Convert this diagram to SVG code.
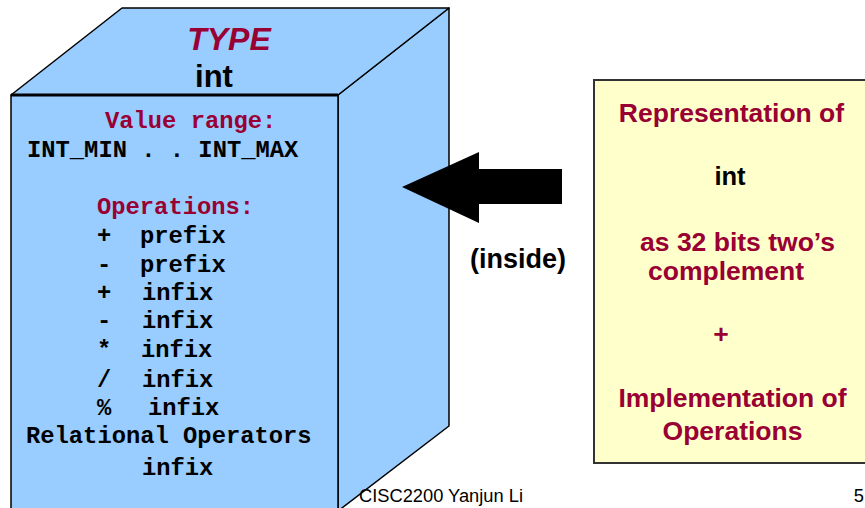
<svg xmlns="http://www.w3.org/2000/svg" width="865" height="508" viewBox="0 0 865 508">
  <style>
    .face { fill: #99CCFF; stroke: #000; stroke-width: 1.5; stroke-linejoin: round; }
    .mono { font-family: "Liberation Mono", "Courier New", monospace; font-weight: bold; font-size: 23.8px; fill: #000; }
    .mono.red { fill: #990033; }
    .sans { font-family: "Liberation Sans", Arial, sans-serif; font-weight: bold; }
    .red { fill: #990033; }
    .foot { font-family: "Liberation Sans", Arial, sans-serif; font-size: 18.3px; fill: #000; }
  </style>
  <rect width="865" height="508" fill="#fff"/>

  <!-- the type shown as a box: front, top and right faces -->
  <g id="type-box">
    <polygon class="face" points="338,95 449,8 449,426 338,511"/>
    <polygon class="face" points="11,95 122,8 449,8 338,95"/>
    <rect class="face" x="11" y="95" width="327" height="420"/>
    <line x1="11" y1="95" x2="338" y2="95" stroke="#000" stroke-width="3"/>
    <text class="sans red" x="229" y="50" font-size="32" font-style="italic" text-anchor="middle">TYPE</text>
    <text class="sans" x="214" y="87" font-size="31" text-anchor="middle">int</text>
    <text class="mono red" x="105" y="128">Value range:</text>
    <text class="mono" x="27" y="157">INT_MIN . . INT_MAX</text>
    <text class="mono red" x="97" y="214">Operations:</text>
    <text class="mono" x="97" y="243">+<tspan x="140">prefix</tspan></text>
    <text class="mono" x="97" y="272">-<tspan x="140">prefix</tspan></text>
    <text class="mono" x="97" y="300">+<tspan x="142">infix</tspan></text>
    <text class="mono" x="97" y="328">-<tspan x="142">infix</tspan></text>
    <text class="mono" x="97" y="357">*<tspan x="141">infix</tspan></text>
    <text class="mono" x="97" y="387">/<tspan x="142">infix</tspan></text>
    <text class="mono" x="97" y="415">%<tspan x="148">infix</tspan></text>
    <text class="mono" x="26" y="443">Relational Operators</text>
    <text class="mono" x="142" y="475">infix</text>
  </g>

  <!-- implementation side -->
  <g id="implementation">
    <rect x="594" y="80" width="274" height="383" fill="#FFFFCC" stroke="#333" stroke-width="2"/>
    <text class="sans red" x="731.5" y="122" font-size="26.5" text-anchor="middle">Representation of</text>
    <text class="sans" x="730" y="185" font-size="25.5" text-anchor="middle">int</text>
    <text class="sans red" x="737.5" y="251" font-size="26.5" text-anchor="middle">as 32 bits two’s</text>
    <text class="sans red" x="726" y="280" font-size="26.5" text-anchor="middle">complement</text>
    <text class="sans red" x="721" y="343" font-size="26.5" text-anchor="middle">+</text>
    <text class="sans red" x="732.5" y="407" font-size="26.5" text-anchor="middle">Implementation of</text>
    <text class="sans red" x="732.5" y="440" font-size="26.5" text-anchor="middle">Operations</text>
  </g>

  <!-- block arrow from the implementation into the type -->
  <g id="connectors">
    <polygon points="402,187 479,152 479,169 562,169 562,204 479,204 479,223" fill="#000"/>
    <text class="sans" x="518" y="268" font-size="27" text-anchor="middle">(inside)</text>
  </g>

  <g id="footer">
    <text class="foot" x="359" y="502">CISC2200 Yanjun Li</text>
    <text class="foot" x="864" y="502" text-anchor="end">5</text>
  </g>
</svg>
